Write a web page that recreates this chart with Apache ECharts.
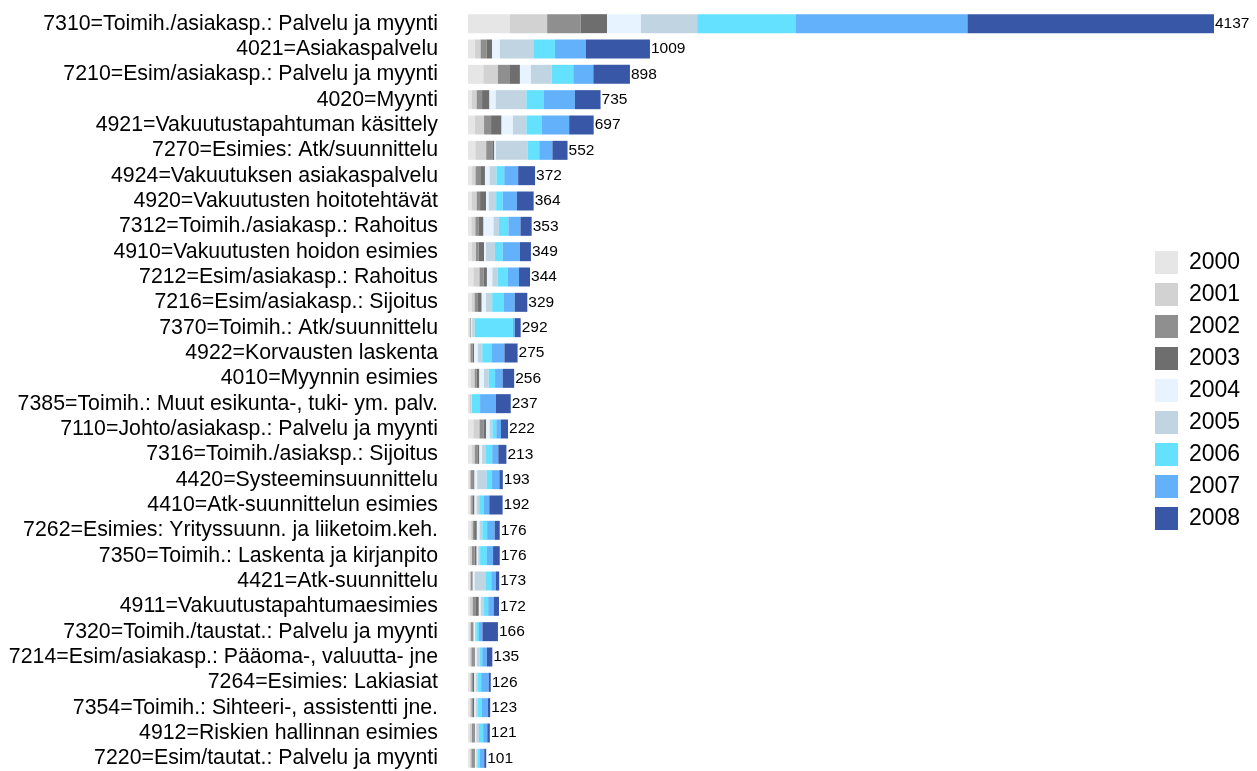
<!DOCTYPE html>
<html>
<head>
<meta charset="utf-8">
<script src="https://cdn.jsdelivr.net/npm/echarts@6/dist/echarts.min.js"></script>
<style>html,body{margin:0;padding:0;background:#fff}#c{width:1257px;height:771px}</style>
</head>
<body>
<div id="c"></div>
<script>
const categories = [
  "7310=Toimih./asiakasp.: Palvelu ja myynti",
  "4021=Asiakaspalvelu",
  "7210=Esim/asiakasp.: Palvelu ja myynti",
  "4020=Myynti",
  "4921=Vakuutustapahtuman käsittely",
  "7270=Esimies: Atk/suunnittelu",
  "4924=Vakuutuksen asiakaspalvelu",
  "4920=Vakuutusten hoitotehtävät",
  "7312=Toimih./asiakasp.: Rahoitus",
  "4910=Vakuutusten hoidon esimies",
  "7212=Esim/asiakasp.: Rahoitus",
  "7216=Esim/asiakasp.: Sijoitus",
  "7370=Toimih.: Atk/suunnittelu",
  "4922=Korvausten laskenta",
  "4010=Myynnin esimies",
  "7385=Toimih.: Muut esikunta-, tuki- ym. palv.",
  "7110=Johto/asiakasp.: Palvelu ja myynti",
  "7316=Toimih./asiaksp.: Sijoitus",
  "4420=Systeeminsuunnittelu",
  "4410=Atk-suunnittelun esimies",
  "7262=Esimies: Yrityssuunn. ja liiketoim.keh.",
  "7350=Toimih.: Laskenta ja kirjanpito",
  "4421=Atk-suunnittelu",
  "4911=Vakuutustapahtumaesimies",
  "7320=Toimih./taustat.: Palvelu ja myynti",
  "7214=Esim/asiakasp.: Pääoma-, valuutta- jne",
  "7264=Esimies: Lakiasiat",
  "7354=Toimih.: Sihteeri-, assistentti jne.",
  "4912=Riskien hallinnan esimies",
  "7220=Esim/tautat.: Palvelu ja myynti"
];
const years = ["2000","2001","2002","2003","2004","2005","2006","2007","2008"];
const v2000 = [231,39,85,22,39,41,23,22,19,22,30,22,7,8,15,8,30,22,7,11,15,11,11,11,8,11,11,11,11,11];
const v2001 = [208,31,81,26,50,60,19,26,22,22,34,15,6,6,22,8,34,15,7,7,11,11,4,15,8,8,8,8,11,8];
const v2002 = [186,33,63,30,39,34,26,19,19,15,22,15,3,12,11,1,22,15,15,7,8,15,7,15,8,11,8,8,8,11];
const v2003 = [146,30,59,41,58,11,26,33,26,30,19,24,2,8,15,1,15,11,7,11,15,11,4,19,7,8,8,8,8,8];
const v2004 = [188,44,61,35,63,9,26,15,56,11,30,24,5,21,26,2,19,15,15,11,15,8,11,11,8,11,8,8,8,8];
const v2005 = [312,185,115,170,75,175,38,41,30,50,30,34,15,24,26,2,15,22,52,15,15,11,59,15,7,15,11,11,15,7];
const v2006 = [548,120,120,97,84,65,43,37,52,42,56,65,211,51,35,45,22,34,28,26,27,38,33,26,15,15,19,23,23,11];
const v2007 = [951,172,111,172,153,73,77,78,67,96,62,60,11,72,42,87,26,34,43,30,42,34,26,30,19,26,42,34,23,26];
const v2008 = [1367,355,203,142,136,84,94,93,62,61,61,70,32,73,64,83,39,45,19,74,28,37,18,30,86,30,11,12,14,11];
const totals = [4137,1009,898,735,697,552,372,364,353,349,344,329,292,275,256,237,222,213,193,192,176,176,173,172,166,135,126,123,121,101];
const colors = ["#e6e6e6","#d2d2d2","#8f8f8f","#6e6e6e","#e7f4ff","#c0d5e1","#63e1ff","#63b1fb","#3957a7"];
const seriesValues = [v2000,v2001,v2002,v2003,v2004,v2005,v2006,v2007,v2008];

const series = years.map((y, i) => ({
  name: y,
  type: 'bar',
  stack: 'all',
  barWidth: 19,
  data: seriesValues[i],
  itemStyle: { color: colors[i] },
  emphasis: { disabled: true },
  label: i === years.length - 1 ? {
    show: true,
    position: 'right',
    distance: 1,
    color: '#000',
    fontFamily: 'Liberation Sans, Arial, sans-serif',
    fontSize: 15.5,
    formatter: p => String(totals[p.dataIndex])
  } : { show: false }
}));

const chart = echarts.init(document.getElementById('c'), null, { renderer: 'canvas' });
chart.setOption({
  animation: false,
  backgroundColor: '#fff',
  color: colors,
  grid: { left: 468, top: 11, width: 746, height: 761, containLabel: false },
  xAxis: { type: 'value', min: 0, max: 4137, show: false },
  yAxis: {
    type: 'category',
    inverse: true,
    data: categories,
    axisLine: { show: false },
    axisTick: { show: false },
    axisLabel: {
      interval: 0,
      hideOverlap: false,
      color: '#000',
      fontFamily: 'Liberation Sans, Arial, sans-serif',
      fontSize: 21.3,
      margin: 30
    }
  },
  legend: {
    orient: 'vertical',
    left: 1150,
    top: 246,
    icon: 'rect',
    itemWidth: 23,
    itemHeight: 23,
    itemGap: 9,
    data: years,
    textStyle: {
      color: '#000',
      fontFamily: 'Liberation Sans, Arial, sans-serif',
      fontSize: 23,
      padding: [0, 0, 0, 6]
    }
  },
  series: series
});
</script>
</body>
</html>
